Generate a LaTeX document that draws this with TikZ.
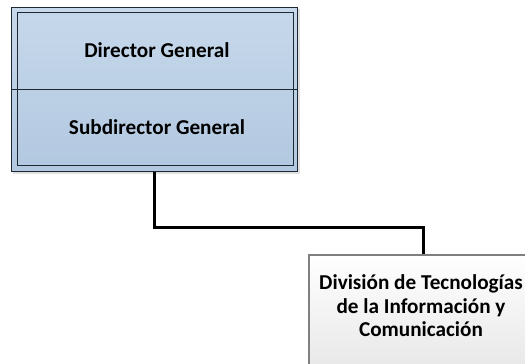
\documentclass[tikz,border=0pt]{standalone}
\usepackage{fontspec}
\setmainfont{Carlito}
\usetikzlibrary{shadows}
\definecolor{boxtop}{HTML}{C6D8EB}
\definecolor{boxbot}{HTML}{B2C8E0}
\definecolor{edge}{HTML}{1E2833}
\definecolor{divedge}{HTML}{808080}
\tikzset{
  x=1pt, y=-1pt,
  orgtext/.style={font=\bfseries\fontsize{21.2}{23.5}\selectfont, text=black, align=center},
  unitbox/.style={draw=edge, line width=1pt, top color=boxtop, bottom color=boxbot},
  connector/.style={draw=black, line width=3pt},
}
\begin{document}
\begin{tikzpicture}
\useasboundingbox (0,0) rectangle (525,364);
\clip (0,0) rectangle (525,364);
% soft shadow behind the management box
\fill[black!12] (13,9) rectangle (299.5,173.5);
% management block: outer frame, inner frame and divider
\node[unitbox, minimum width=286pt, minimum height=164pt, inner sep=0pt, anchor=north west] (mgmt) at (11,7) {};
\node[draw=edge, line width=1pt, minimum width=276pt, minimum height=152.7pt, inner sep=0pt, anchor=north west] (inner) at (16.7,12) {};
\draw[edge, line width=1pt] (mgmt.west |- 0,89) coordinate (divl) -- (mgmt.east |- 0,89) coordinate (divr);
\node[orgtext] (dg) at (157,50) {Director General};
\node[orgtext] (sdg) at (157,127.5) {Subdirector General};
% division block, running off the page
\node[draw=divedge, line width=1.5pt, top color=white, bottom color=black!10, minimum width=229pt, minimum height=125pt, inner sep=0pt, anchor=north west] (div) at (308.3,254) {};
\node[orgtext] (divtxt) at (421,306) {División de Tecnologías\\de la Información y\\Comunicación};
% reporting line
\draw[connector] (mgmt.south) -- ++(0,55.5) -| (div.north);
\end{tikzpicture}
\end{document}
